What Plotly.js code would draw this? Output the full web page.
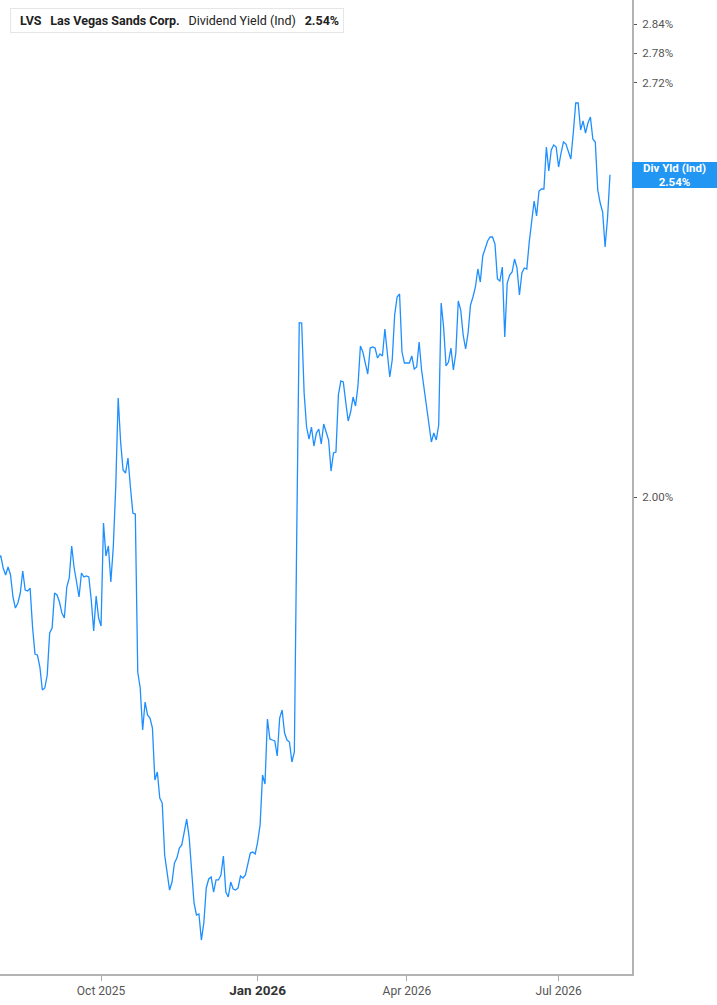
<!DOCTYPE html>
<html>
<head>
<meta charset="utf-8">
<script src="https://cdn.plot.ly/plotly-3.0.1.min.js"></script>
<style>
  html, body { margin: 0; padding: 0; background: #ffffff; }
  #chart { width: 717px; height: 1005px; }
</style>
</head>
<body>
<div id="chart"></div>
<script>
// ---- Data ----
const ticker = "LVS";
const companyName = "Las Vegas Sands Corp.";
const metricName = "Dividend Yield (Ind)";
const lastValueLabel = "2.54%";

const startDate = "2025-08-01";
const marketHolidays = ["2025-09-01","2025-11-27","2025-12-25","2026-01-01","2026-01-19",
                        "2026-02-16","2026-04-03","2026-05-25","2026-06-19","2026-07-03"];

// Dividend yield (%) per trading day, Aug 2025 – Jul 2026
const yieldPct = [
1.9101,1.9148,1.8974,1.8876,1.8988,1.8876,1.8570,1.8419,1.8488,1.8625,
1.8932,1.8667,1.8653,1.8694,1.8161,1.7801,1.7788,1.7630,1.7332,1.7358,
1.7526,1.8081,1.8148,1.8625,1.8598,1.8501,1.8351,1.8283,1.8708,1.8834,
1.9286,1.8974,1.8778,1.8570,1.8904,1.8848,1.8862,1.8848,1.8529,1.8108,
1.8584,1.8283,1.8175,1.9618,1.9144,1.9286,1.8778,1.9272,2.0149,2.1524,
2.0833,2.0405,2.0359,2.0587,2.0149,1.9764,1.9749,1.7565,1.7358,1.6825,
1.7178,1.7014,1.6976,1.6850,1.6213,1.6309,1.5998,1.5938,1.5335,1.5143,
1.4942,1.5031,1.5245,1.5301,1.5415,1.5450,1.5599,1.5750,1.5541,1.5199,
1.4799,1.4668,1.4679,1.4398,1.4581,1.4965,1.5065,1.5087,1.4920,1.5054,
1.5054,1.5110,1.5324,1.4920,1.4865,1.5031,1.4953,1.4942,1.4965,1.5098,
1.5076,1.5110,1.5233,1.5358,1.5369,1.5347,1.5484,1.5680,1.6273,1.6165,
1.6963,1.6714,1.6701,1.6689,1.6504,1.6976,1.7077,1.6788,1.6701,1.6676,
1.6431,1.6553,1.9516,2.2761,2.2756,2.1604,2.1066,2.0879,2.1066,2.0771,
2.0972,2.1035,2.0802,2.1113,2.0988,2.0864,2.0389,2.0664,2.0679,2.1572,
2.1797,2.1781,2.1460,2.1160,2.1302,2.1540,2.1397,2.1717,2.2371,2.2271,
2.2090,2.1911,2.2337,2.2354,2.2337,2.2172,2.2238,2.2206,2.2655,2.2222,
2.1862,2.2140,2.2891,2.3199,2.3251,2.2271,2.2090,2.2090,2.2090,2.2206,
2.1992,2.2025,2.2437,2.1976,2.1685,2.1381,2.1176,2.0833,2.0972,2.0864,
2.1097,2.3096,2.2688,2.2041,2.2107,2.2337,2.1976,2.2255,2.3130,2.2976,
2.2554,2.2321,2.2587,2.3062,2.3199,2.3372,2.3686,2.3458,2.3916,2.4058,
2.4183,2.4255,2.4255,2.4129,2.3511,2.3476,2.3721,2.2521,2.3441,2.3580,
2.3633,2.3862,2.3703,2.3233,2.3616,2.3703,2.3686,2.4165,2.4599,2.4911,
2.4636,2.5097,2.5134,2.5134,2.5929,2.5472,2.5872,2.5968,2.5929,2.5547,
2.5814,2.6026,2.5987,2.5852,2.5700,2.6200,2.6790,2.6790,2.6258,2.6435,
2.6200,2.6395,2.6513,2.6084,2.6026,2.5115,2.4874,2.4709,2.4075,2.4599,
2.54
];

const yTickVals = [2.00, 2.72, 2.78, 2.84];
const yTickText = ["2.00%", "2.72%", "2.78%", "2.84%"];
const xTickVals = ["2025-10-01", "2026-01-02", "2026-04-01", "2026-07-01"];
const xTickText = ["Oct 2025", "<b><span style=\"font-size:13.5px;color:#333\">Jan 2026</span></b>", "Apr 2026", "Jul 2026"];

// ---- Trading-day calendar for the x axis ----
function tradingDays(start, n, holidays) {
  const out = [];
  const d = new Date(start + "T00:00:00Z");
  const hol = new Set(holidays);
  while (out.length < n) {
    const dow = d.getUTCDay();
    const s = d.toISOString().slice(0, 10);
    if (dow !== 0 && dow !== 6 && !hol.has(s)) out.push(s);
    d.setUTCDate(d.getUTCDate() + 1);
  }
  return out;
}
const dates = tradingDays(startDate, yieldPct.length, marketHolidays);
const lastVal = yieldPct[yieldPct.length - 1];

// ---- Layout geometry ----
const W = 717, H = 1005;
const M = { l: 0, r: 85, t: 0, b: 31 };
const PW = W - M.l - M.r, PH = H - M.t - M.b;
const px = v => v / PW;
const py = v => 1 - v / PH;

const trace = {
  type: "scatter",
  mode: "lines",
  x: dates,
  y: yieldPct,
  line: { color: "#1e8fff", width: 1.3, shape: "linear" },
  hoverinfo: "x+y",
  showlegend: false
};

const gap = "\u00a0\u00a0\u2009";
const layout = {
  width: W, height: H,
  margin: M,
  paper_bgcolor: "#ffffff",
  plot_bgcolor: "#ffffff",
  font: { family: "Roboto, 'Noto Sans', sans-serif", color: "#555" },
  showlegend: false,
  xaxis: {
    type: "category",
    range: [0.7, 259.0],
    showgrid: false, zeroline: false,
    showline: true, linecolor: "#b3b3b3", linewidth: 2,
    ticks: "outside", ticklen: 5, tickcolor: "#aaaaaa", tickwidth: 1,
    tickmode: "array", tickvals: xTickVals, ticktext: xTickText,
    tickfont: { family: "Roboto, sans-serif", size: 12, color: "#555" },
    fixedrange: true
  },
  yaxis: {
    type: "log",
    side: "right",
    range: [0.14736, 0.46115],
    showgrid: false, zeroline: false,
    showline: true, linecolor: "#b3b3b3", linewidth: 2,
    ticks: "outside", ticklen: 3, tickcolor: "#555", tickwidth: 1,
    ticklabelstandoff: 3,
    tickmode: "array", tickvals: yTickVals, ticktext: yTickText,
    tickfont: { family: "Roboto, sans-serif", size: 11.5, color: "#555" },
    fixedrange: true
  },
  shapes: [
    { type: "rect", xref: "paper", yref: "paper",
      x0: px(10), x1: px(13), y0: py(33), y1: py(8.5),
      fillcolor: "#1e8fff", line: { width: 0 }, layer: "above" }
  ],
  annotations: [
    {
      xref: "paper", yref: "paper",
      x: px(10), y: py(8), xanchor: "left", yanchor: "top",
      text: "\u2009\u2009<b>" + ticker + "</b>" + gap + "<b>" + companyName + "</b>" + gap + metricName + gap + "<b>" + lastValueLabel + "</b>",
      showarrow: false, align: "left",
      font: { family: "Roboto, 'Noto Sans', sans-serif", size: 12.5, color: "#222" },
      bgcolor: "#ffffff", bordercolor: "#e6e6e6", borderwidth: 1, borderpad: 4,
      width: 324, height: 15
    },
    {
      xref: "paper", yref: "y",
      x: 1, y: Math.log10(lastVal), xanchor: "left", yanchor: "middle",
      text: "<b>Div Yld (Ind)</b><br><b>" + lastVal.toFixed(2) + "%</b>",
      showarrow: false, align: "center",
      font: { family: "Roboto, sans-serif", size: 11.5, color: "#ffffff" },
      bgcolor: "#2196f3", borderpad: 0, borderwidth: 0,
      width: 85, height: 26
    }
  ]
};

Plotly.newPlot("chart", [trace], layout, { displayModeBar: false, staticPlot: true });
</script>
</body>
</html>
